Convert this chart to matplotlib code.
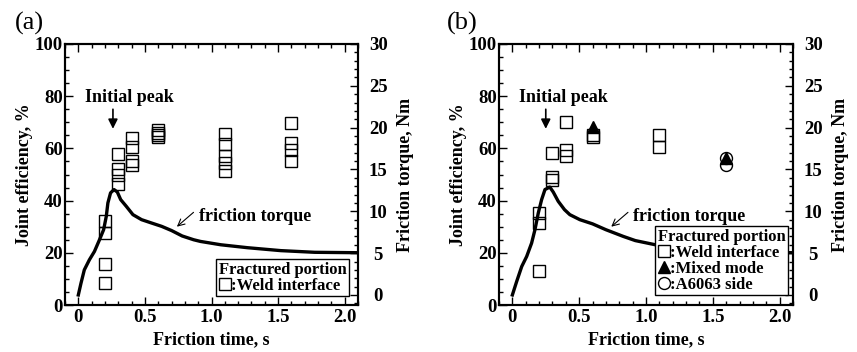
import matplotlib
matplotlib.use("Agg")
import matplotlib.pyplot as plt
from matplotlib.lines import Line2D
from matplotlib.ticker import MultipleLocator

plt.rcParams["font.family"] = ["Liberation Serif", "DejaVu Serif"]
plt.rcParams["font.weight"] = "bold"
plt.rcParams["axes.labelweight"] = "bold"

# ---------------------------------------------------------------- data
xticks = [0, 0.5, 1.0, 1.5, 2.0]
xtick_labels = ["0", "0.5", "1.0", "1.5", "2.0"]

# (a) joint efficiency, weld interface fracture
weld_a_x = [0.2, 0.2, 0.2, 0.2,
            0.3, 0.3, 0.3, 0.3,
            0.4, 0.4, 0.4, 0.4,
            0.6, 0.6, 0.6, 0.6,
            1.1, 1.1, 1.1, 1.1, 1.1,
            1.6, 1.6, 1.6, 1.6]
weld_a_y = [32.0, 27.5, 15.7, 8.5,
            57.7, 52.0, 49.8, 46.4,
            63.8, 60.7, 55.3, 53.6,
            67.0, 65.9, 65.0, 64.2,
            65.5, 61.5, 57.0, 54.5, 51.3,
            69.7, 62.0, 59.4, 55.0]

# (b) joint efficiency by fracture mode
weld_b_x = [0.2, 0.2, 0.2, 0.3, 0.3, 0.3, 0.4, 0.4, 0.4, 0.6, 0.6, 1.1, 1.1]
weld_b_y = [35.3, 31.3, 13.2, 58.4, 49.0, 47.8, 70.1, 59.2, 57.2, 65.0, 64.2, 65.1, 60.5]
mixed_b_x = [0.6, 1.6]
mixed_b_y = [68.3, 56.5]
a6063_b_x = [1.6, 1.6]
a6063_b_y = [56.5, 53.6]

# friction torque curves (Nm)
torque_a_t = [0.0, 0.02, 0.045, 0.083, 0.121, 0.159, 0.19, 0.21, 0.222, 0.242,
              0.268, 0.293, 0.318, 0.36, 0.41, 0.475, 0.55, 0.626, 0.70, 0.78,
              0.866, 0.917, 1.07, 1.27, 1.52, 1.775, 2.1]
torque_a_T = [0.0, 1.4, 3.0, 4.2, 5.2, 6.6, 7.8, 9.4, 11.0, 12.2,
              12.6, 12.3, 11.4, 10.6, 9.6, 9.0, 8.6, 8.2, 7.7, 7.05,
              6.6, 6.4, 6.0, 5.65, 5.3, 5.1, 5.05]
torque_b_t = [0.0, 0.032, 0.07, 0.107, 0.144, 0.169, 0.194, 0.219, 0.244, 0.28,
              0.306, 0.343, 0.39, 0.43, 0.505, 0.60, 0.70, 0.83, 0.92, 1.07,
              1.27, 1.52, 1.775, 2.1]
torque_b_T = [0.0, 1.6, 3.4, 4.6, 6.2, 7.8, 9.8, 11.4, 12.6, 12.9,
              12.3, 11.2, 10.2, 9.6, 9.0, 8.5, 7.8, 7.0, 6.5, 6.0,
              5.65, 5.3, 5.1, 5.05]

FS = 13


def setup_axes(ax):
    ax.set_xlim(-0.1, 2.1)
    ax.set_ylim(0, 100)
    ax.set_xticks(xticks, xtick_labels)
    ax.xaxis.set_minor_locator(MultipleLocator(0.1))
    ax.yaxis.set_major_locator(MultipleLocator(20))
    ax.yaxis.set_minor_locator(MultipleLocator(5))
    ax.tick_params(which="both", direction="in", top=True, right=False,
                   width=1.0, labelsize=13.5)
    ax.tick_params(which="major", length=6)
    ax.tick_params(which="minor", length=3)
    ax.tick_params(axis="y", pad=1.5)
    ax.tick_params(axis="x", pad=3)
    for s in ax.spines.values():
        s.set_linewidth(1.5)
    ax.set_xlabel("Friction time, s", fontsize=FS, labelpad=4)
    ax.set_ylabel("Joint efficiency, %", fontsize=FS, labelpad=1)

    ax2 = ax.twinx()
    ax2.set_ylim(-1.2, 30)
    ax2.yaxis.set_major_locator(MultipleLocator(5))
    ax2.yaxis.set_minor_locator(MultipleLocator(1))
    ax2.tick_params(which="both", direction="in", width=1.0, labelsize=13.5,
                    pad=14.5)
    ax2.tick_params(which="major", length=6)
    ax2.tick_params(which="minor", length=3)
    for lab in ax2.get_yticklabels():
        lab.set_horizontalalignment("center")
    for s in ax2.spines.values():
        s.set_linewidth(1.5)
    ax2.set_ylabel("Friction torque, Nm", fontsize=FS, labelpad=7)
    return ax2


def annotate(ax, peak_x, text_x):
    ax.annotate("", xy=(peak_x, 67.5), xytext=(peak_x, 75),
                arrowprops=dict(arrowstyle="-|>", color="k", lw=1.2,
                                mutation_scale=14, shrinkA=0, shrinkB=0))
    ax.text(text_x, 79.5, "Initial peak", fontsize=FS, ha="center", va="center")
    ax.annotate("", xy=(0.74, 30), xytext=(0.865, 35.5),
                arrowprops=dict(arrowstyle="->", color="k", lw=0.8,
                                mutation_scale=12, shrinkA=0, shrinkB=0))
    ax.text(0.905, 34.0, "friction torque", fontsize=FS, ha="left", va="center")


def add_legend(ax, handles, labels, anchor):
    leg = ax.legend(handles, labels, title="Fractured portion",
                    loc="lower right", bbox_to_anchor=anchor, fontsize=12,
                    title_fontproperties=dict(size=12, weight="bold"),
                    alignment="left", frameon=True, fancybox=False,
                    edgecolor="k", framealpha=1, handlelength=0.7,
                    handletextpad=0.05, borderpad=0.15, labelspacing=0.0,
                    borderaxespad=0)
    leg.get_frame().set_linewidth(1.0)
    return leg


sq = dict(marker="s", ls="none", mfc="none", mec="k", ms=8.6, mew=1.0)
tri = dict(marker="^", ls="none", mfc="k", mec="k", ms=8.6, mew=1.0)
circ = dict(marker="o", ls="none", mfc="none", mec="k", ms=8.6, mew=1.0)

fig = plt.figure(figsize=(8.57, 3.52), dpi=100)

# ---------------------------------------------------------------- (a)
axa = fig.add_axes([65 / 857, 47 / 352, 293 / 857, 261 / 352])
axa2 = setup_axes(axa)
axa.plot(weld_a_x, weld_a_y, **sq)
axa2.plot(torque_a_t, torque_a_T, color="k", lw=2.4)
annotate(axa, 0.26, 0.387)
add_legend(axa2, [Line2D([], [], **sq)], [":Weld interface"], (0.969, 0.034))

# ---------------------------------------------------------------- (b)
axb = fig.add_axes([499 / 857, 47 / 352, 294 / 857, 261 / 352])
axb2 = setup_axes(axb)
axb.plot(weld_b_x, weld_b_y, **sq)
axb.plot(a6063_b_x, a6063_b_y, **circ)
axb.plot(mixed_b_x, mixed_b_y, **tri)
axb2.plot(torque_b_t, torque_b_T, color="k", lw=2.4)
annotate(axb, 0.25, 0.38)
add_legend(axb2, [Line2D([], [], **sq), Line2D([], [], **tri),
                  Line2D([], [], **circ)],
           [":Weld interface", ":Mixed mode", ":A6063 side"], (0.983, 0.038))

fig.text(15 / 857, 1 - 23 / 352, "(a)", fontsize=19, fontweight="normal",
         ha="left", va="center")
fig.text(447 / 857, 1 - 23 / 352, "(b)", fontsize=19, fontweight="normal",
         ha="left", va="center")

fig.savefig("out.png", dpi=100)
